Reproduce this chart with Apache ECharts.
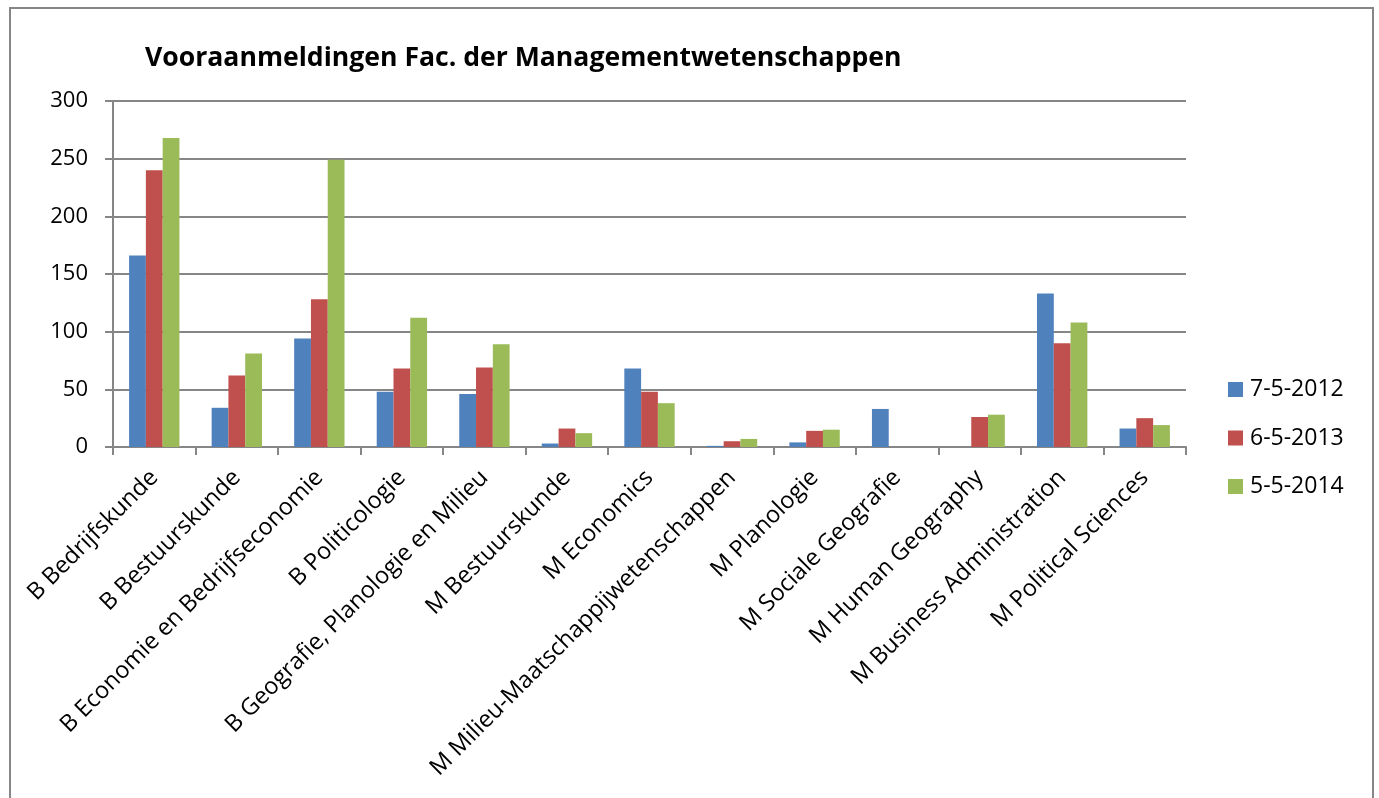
<!DOCTYPE html>
<html>
<head>
<meta charset="utf-8">
<title>Vooraanmeldingen</title>
<script src="https://cdn.jsdelivr.net/npm/echarts@6/dist/echarts.min.js"></script>
<style>
  html, body { margin: 0; padding: 0; background: #fff; }
  #chart { width: 1379px; height: 798px; }
</style>
</head>
<body>
<div id="chart"></div>
<script>
// categories (opleidingen)
const categories = [
  'B Bedrijfskunde',
  'B Bestuurskunde',
  'B Economie en Bedrijfseconomie',
  'B Politicologie',
  'B Geografie, Planologie en Milieu',
  'M Bestuurskunde',
  'M Economics',
  'M Milieu-Maatschappijwetenschappen',
  'M Planologie',
  'M Sociale Geografie',
  'M Human Geography',
  'M Business Administration',
  'M Political Sciences'
];

// series values
const peil2012 = [166, 34, 94, 48, 46, 3, 68, 1, 4, 33, 0, 133, 16];
const peil2013 = [240, 62, 128, 68, 69, 16, 48, 5, 14, 0, 26, 90, 25];
const peil2014 = [268, 81, 249, 112, 89, 12, 38, 7, 15, 0, 28, 108, 19];

const seriesNames = ['7-5-2012', '6-5-2013', '5-5-2014'];
const yTicks = [0, 50, 100, 150, 200, 250, 300];

const chart = echarts.init(document.getElementById('chart'));

const font = '"Open Sans", Lato, sans-serif';
const gridColor = '#868686';

const makeSeries = (name, data, color) => ({
  name: name,
  type: 'bar',
  data: data,
  barGap: '0%',
  barCategoryGap: '39%',
  itemStyle: { color: color },
  emphasis: { disabled: true }
});

chart.setOption({
  animation: false,
  textStyle: { fontFamily: font },
  title: {
    text: 'Vooraanmeldingen Fac. der Managementwetenschappen',
    left: 140,
    top: 40,
    textStyle: { fontFamily: font, fontSize: 26.6, fontWeight: 'bold', color: '#000' }
  },
  legend: {
    orient: 'vertical',
    left: 1223,
    top: 373,
    itemWidth: 15,
    itemHeight: 15,
    itemGap: 25.5,
    icon: 'rect',
    data: seriesNames,
    textStyle: { fontFamily: font, fontSize: 23, color: '#000', padding: [0, 0, 0, 2] }
  },
  graphic: [{
    type: 'rect',
    shape: { x: 10, y: 8, width: 1363, height: 800 },
    style: { fill: 'none', stroke: gridColor, lineWidth: 2 },
    silent: true
  }],
  grid: { left: 113, right: 193, top: 101, bottom: 351 },
  xAxis: {
    type: 'category',
    data: categories,
    axisLine: { lineStyle: { color: gridColor, width: 2 } },
    axisTick: { show: true, length: 8, lineStyle: { color: gridColor, width: 2 } },
    axisLabel: {
      interval: 0,
      rotate: 45,
      margin: 27,
      fontSize: 23.5,
      color: '#000',
      fontFamily: font
    }
  },
  yAxis: {
    type: 'value',
    min: 0,
    max: 300,
    interval: 50,
    axisLine: { show: true, lineStyle: { color: gridColor, width: 2 } },
    axisTick: { show: true, length: 8, lineStyle: { color: gridColor, width: 2 } },
    splitLine: { lineStyle: { color: gridColor, width: 2 } },
    axisLabel: {
      margin: 25,
      fontSize: 22,
      color: '#000',
      fontFamily: font,
      formatter: v => (yTicks.indexOf(v) >= 0 ? String(v) : '')
    }
  },
  series: [
    makeSeries(seriesNames[0], peil2012, '#4F81BD'),
    makeSeries(seriesNames[1], peil2013, '#C0504D'),
    makeSeries(seriesNames[2], peil2014, '#9BBB59')
  ]
});

window.addEventListener('resize', () => chart.resize());
</script>
</body>
</html>
